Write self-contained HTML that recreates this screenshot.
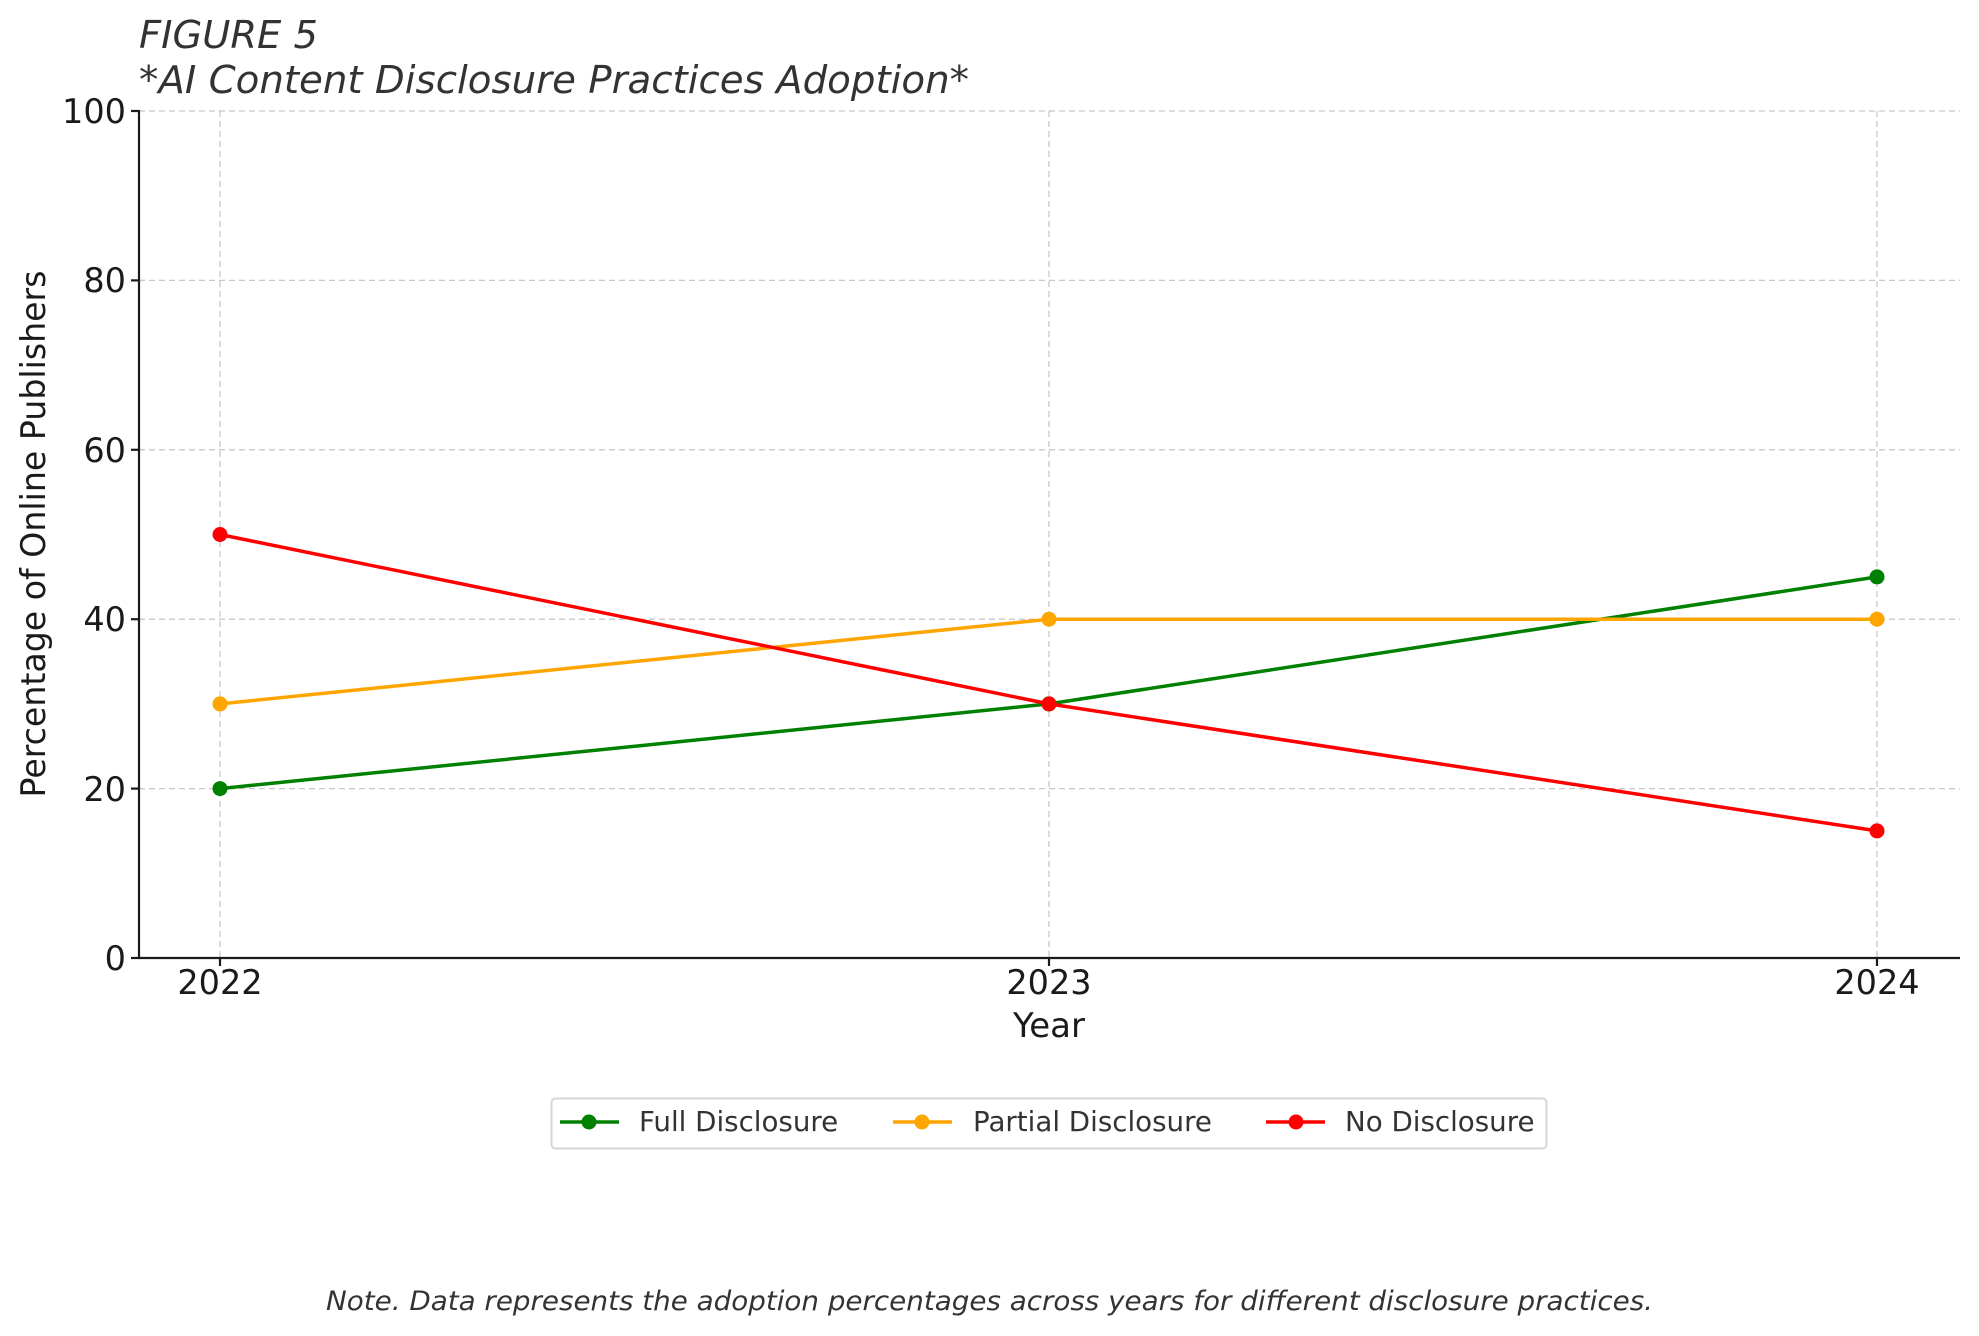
<!DOCTYPE html>
<html><head><meta charset="utf-8"><style>html,body{margin:0;padding:0;background:#fff}svg{display:block}text{font-family:"DejaVu Sans","Liberation Sans",sans-serif}</style></head>
<body>
<svg width="1979" height="1336" viewBox="0 0 1979 1336" xmlns="http://www.w3.org/2000/svg">
<rect width="1979" height="1336" fill="#fff"/>
<g stroke="#c8c8c8" stroke-width="1.3" stroke-dasharray="6,4">
<line x1="139" x2="1960" y1="111" y2="111"/>
<line x1="139" x2="1960" y1="280.4" y2="280.4"/>
<line x1="139" x2="1960" y1="449.8" y2="449.8"/>
<line x1="139" x2="1960" y1="619.2" y2="619.2"/>
<line x1="139" x2="1960" y1="788.6" y2="788.6"/>
<line x1="220" x2="220" y1="111" y2="958"/>
<line x1="1049" x2="1049" y1="111" y2="958"/>
<line x1="1877" x2="1877" y1="111" y2="958"/>
</g>
<g stroke="#1a1a1a" stroke-width="2.2">
<line x1="139" y1="110" x2="139" y2="959"/>
<line x1="138" y1="958" x2="1960" y2="958"/>
<line x1="131" x2="139" y1="111" y2="111"/>
<line x1="131" x2="139" y1="280.4" y2="280.4"/>
<line x1="131" x2="139" y1="449.8" y2="449.8"/>
<line x1="131" x2="139" y1="619.2" y2="619.2"/>
<line x1="131" x2="139" y1="788.6" y2="788.6"/>
<line x1="131" x2="139" y1="958" y2="958"/>
<line x1="220" x2="220" y1="958" y2="966"/>
<line x1="1049" x2="1049" y1="958" y2="966"/>
<line x1="1877" x2="1877" y1="958" y2="966"/>
</g>
<g font-size="33.5" fill="#1a1a1a" text-anchor="end">
<text x="126" y="123">100</text>
<text x="126" y="292">80</text>
<text x="126" y="462">60</text>
<text x="126" y="631">40</text>
<text x="126" y="801">20</text>
<text x="126" y="970">0</text>
</g>
<g font-size="33.5" fill="#1a1a1a" text-anchor="middle">
<text x="220" y="994">2022</text>
<text x="1049" y="994">2023</text>
<text x="1877" y="994">2024</text>
<text x="1049" y="1037" font-size="34">Year</text>
</g>
<text transform="translate(45,534) rotate(-90)" font-size="34" fill="#1a1a1a" text-anchor="middle" textLength="527" lengthAdjust="spacingAndGlyphs">Percentage of Online Publishers</text>
<g font-style="italic" font-size="38" fill="#333">
<text x="139" y="48" textLength="179" lengthAdjust="spacingAndGlyphs">FIGURE 5</text>
<text x="139" y="93" textLength="830" lengthAdjust="spacingAndGlyphs">*AI Content Disclosure Practices Adoption*</text>
</g>
<g fill="none" stroke-width="3.5">
<polyline points="220,788.6 1049,703.9 1877,576.9" stroke="#008000"/>
<polyline points="220,703.9 1049,619.2 1877,619.2" stroke="#FFA500"/>
<polyline points="220,534.5 1049,703.9 1877,830.9" stroke="#FF0000"/>
</g>
<g fill="#008000"><circle cx="220" cy="788.6" r="7.5"/><circle cx="1049" cy="703.9" r="7.5"/><circle cx="1877" cy="576.9" r="7.5"/></g>
<g fill="#FFA500"><circle cx="220" cy="703.9" r="7.5"/><circle cx="1049" cy="619.2" r="7.5"/><circle cx="1877" cy="619.2" r="7.5"/></g>
<g fill="#FF0000"><circle cx="220" cy="534.5" r="7.5"/><circle cx="1049" cy="703.9" r="7.5"/><circle cx="1877" cy="830.9" r="7.5"/></g>
<rect x="551.5" y="1098.5" width="995" height="50" rx="4" fill="#fff" stroke="#d6d6d6" stroke-width="2"/>
<g stroke-width="3.5">
<line x1="560" x2="619" y1="1122" y2="1122" stroke="#008000"/>
<line x1="893" x2="952" y1="1122" y2="1122" stroke="#FFA500"/>
<line x1="1266" x2="1325" y1="1122" y2="1122" stroke="#FF0000"/>
</g>
<circle cx="589" cy="1122" r="7.5" fill="#008000"/>
<circle cx="922" cy="1122" r="7.5" fill="#FFA500"/>
<circle cx="1296" cy="1122" r="7.5" fill="#FF0000"/>
<g font-size="27.7" fill="#333">
<text x="639" y="1131">Full Disclosure</text>
<text x="973" y="1131">Partial Disclosure</text>
<text x="1345" y="1131">No Disclosure</text>
</g>
<text x="326" y="1310" font-size="27" font-style="italic" fill="#333" textLength="1327" lengthAdjust="spacingAndGlyphs">Note. Data represents the adoption percentages across years for different disclosure practices.</text>
</svg>
</body></html>
